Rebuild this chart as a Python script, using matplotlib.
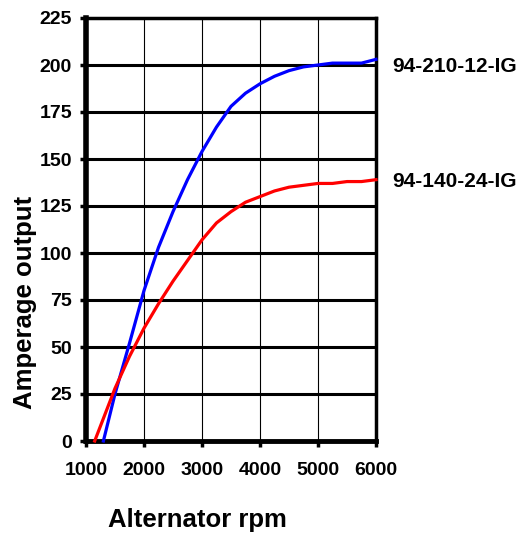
import matplotlib
matplotlib.use("Agg")
import matplotlib.pyplot as plt

plt.rcParams['font.family'] = ['Liberation Sans', 'DejaVu Sans']
plt.rcParams['font.weight'] = 'bold'

# data
rpm_blue = [1300, 1500, 1750, 2000, 2250, 2500, 2750, 3000, 3250, 3500, 3750,
            4000, 4250, 4500, 4750, 5000, 5250, 5500, 5750, 6000]
amp_blue = [0, 25, 52, 80, 103, 122, 139, 154, 167, 178, 185,
            190, 194, 197, 199, 200, 201, 201, 201, 203]

rpm_red = [1150, 1300, 1500, 1750, 2000, 2250, 2500, 2750, 3000, 3250, 3500,
           3750, 4000, 4250, 4500, 4750, 5000, 5250, 5500, 5750, 6000]
amp_red = [0, 12, 28, 45, 60, 73, 85, 96, 107, 116, 122,
           127, 130, 133, 135, 136, 137, 137, 138, 138, 139]

labels = ['94-210-12-IG', '94-140-24-IG']
x_ticks = [1000, 2000, 3000, 4000, 5000, 6000]
y_ticks = [0, 25, 50, 75, 100, 125, 150, 175, 200, 225]

fig = plt.figure(figsize=(5.28, 5.33), dpi=100)
ax = fig.add_axes([86/528, 92/533, 290/528, 423/533])

# grid: thin vertical, thick horizontal
for x in x_ticks[1:-1]:
    ax.axvline(x, color='black', lw=0.8, zorder=1)
for y in y_ticks[1:-1]:
    ax.axhline(y, color='black', lw=2.2, zorder=1)

ax.plot(rpm_blue, amp_blue, color='#0000ff', lw=2.3, zorder=3, clip_on=False)
ax.plot(rpm_red, amp_red, color='#ff0000', lw=2.3, zorder=3, clip_on=False)

# series labels to the right of the line ends
ax.annotate(labels[0], xy=(rpm_blue[-1], amp_blue[-1] - 3), xytext=(12, 0),
            textcoords='offset points', fontsize=15, fontweight='bold',
            va='center_baseline', ha='left', annotation_clip=False)
ax.annotate(labels[1], xy=(rpm_red[-1], amp_red[-1]), xytext=(12, 0),
            textcoords='offset points', fontsize=15, fontweight='bold',
            va='center_baseline', ha='left', annotation_clip=False)

ax.set_xlim(1000, 6000)
ax.set_ylim(0, 225)
ax.set_xticks(x_ticks)
ax.set_yticks(y_ticks)
ax.tick_params(axis='both', labelsize=14, width=2.5, length=4, direction='out')
ax.tick_params(axis='x', pad=11)
ax.tick_params(axis='y', pad=6)
for lab in ax.get_xticklabels() + ax.get_yticklabels():
    lab.set_fontweight('bold')

ax.spines['left'].set_linewidth(4)
ax.spines['bottom'].set_linewidth(3.5)
ax.spines['top'].set_linewidth(2.5)
ax.spines['right'].set_linewidth(2.5)

fig.text(197/528, 6/533, 'Alternator rpm', fontsize=18.5, fontweight='bold',
         ha='center', va='baseline')
fig.text(25/528, 1 - 302/533, 'Amperage output', fontsize=18.5, fontweight='bold',
         ha='center', va='center', rotation=90)

fig.savefig('out.png', dpi=100)
